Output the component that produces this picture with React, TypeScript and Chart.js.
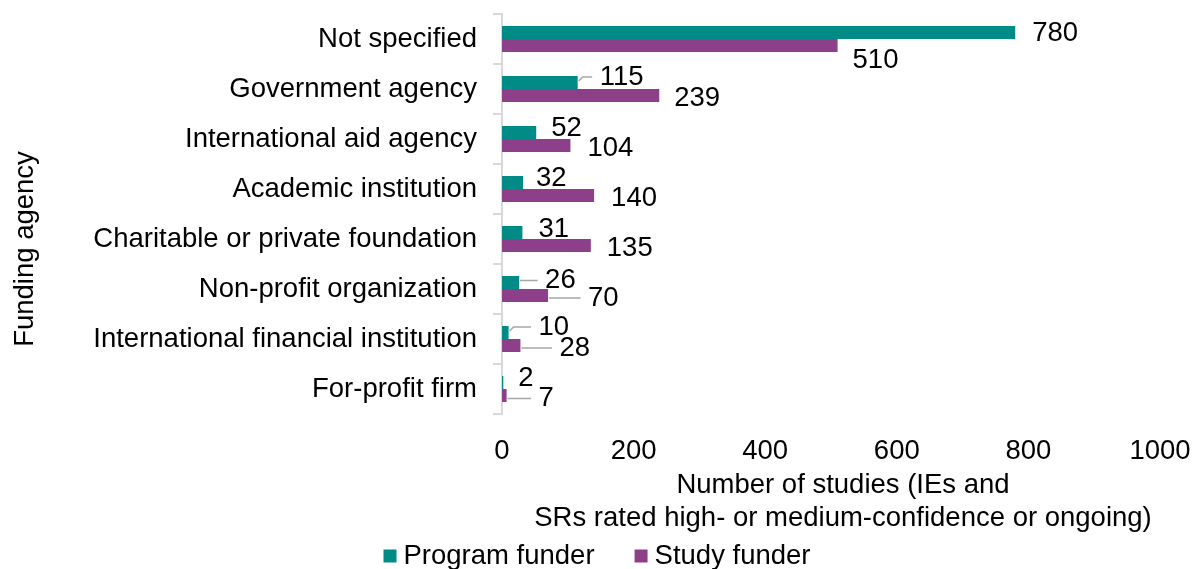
import React, { useEffect, useRef } from "react";
import { Chart, registerables } from "chart.js";

Chart.register(...registerables);

const categories = [
  "Not specified",
  "Government agency",
  "International aid agency",
  "Academic institution",
  "Charitable or private foundation",
  "Non-profit organization",
  "International financial institution",
  "For-profit firm",
];
const programFunder = [780, 115, 52, 32, 31, 26, 10, 2];
const studyFunder = [510, 239, 104, 140, 135, 70, 28, 7];
const seriesNames = ["Program funder", "Study funder"];
const xMin = 0;
const xMax = 1000;
const xStep = 200;
const yTitle = "Funding agency";
const xTitleLines = ["Number of studies (IEs and", "SRs rated high- or medium-confidence or ongoing)"];

// styling
const FONT = '"Liberation Sans", Arial, Helvetica, sans-serif';
const FS = 27.5;
const TEAL = "rgb(0,139,135)";
const PURPLE = "rgb(142,63,137)";
const AXIS_GRAY = "#D9D9D9";
const LEADER_GRAY = "#A6A6A6";

// label placement: [dx from bar end, dy from bar centre, leader line?]
const labelOffsets: [number, number, boolean][][] = [
  [[17, 1, false], [22, -5.5, true], [15, -4.5, false], [13, -4.5, false], [16, -3, false], [26, -2, true], [30, -5.5, true], [15, -4, false]],
  [[15, 14.5, false], [15, 2.5, false], [17, 2.5, false], [17, 3, false], [16, 3, false], [40, 2.5, true], [39, 2.5, true], [32, 3, true]],
];

const annotPlugin = {
  id: "annot",
  afterDraw(chart: any) {
    const ctx = chart.ctx as CanvasRenderingContext2D;
    const ca = chart.chartArea;
    ctx.save();
    ctx.font = `${FS}px ${FONT}`;
    ctx.fillStyle = "#000";

    // data labels
    chart.data.datasets.forEach((ds: any, i: number) => {
      const meta = chart.getDatasetMeta(i);
      meta.data.forEach((el: any, j: number) => {
        const off = labelOffsets[i][j];
        const p = el.getProps(["x", "y", "height", "base"], true);
        const x = p.x;
        const y = p.y;
        const lx = x + off[0];
        const ly = y + off[1];
        if (off[2]) {
          const top = y - p.height / 2;
          ctx.strokeStyle = LEADER_GRAY;
          ctx.lineWidth = 1.5;
          ctx.beginPath();
          if (ly < top + 2) {
            ctx.moveTo(x + 1, ly + 4);
            ctx.lineTo(x + 5, ly);
          } else {
            ctx.moveTo(x + 1, ly);
          }
          ctx.lineTo(lx - 7.5, ly);
          ctx.stroke();
        }
        ctx.textAlign = "left";
        ctx.textBaseline = "middle";
        ctx.fillText(String(ds.data[j]), lx, ly);
      });
    });

    // y title
    ctx.save();
    ctx.translate(25, 249);
    ctx.rotate(-Math.PI / 2);
    ctx.textAlign = "center";
    ctx.textBaseline = "middle";
    ctx.fillText(yTitle, 0, 0);
    ctx.restore();

    // x title
    const cx = (ca.left + ca.right) / 2 + 12;
    ctx.textAlign = "center";
    ctx.textBaseline = "middle";
    xTitleLines.forEach((t, k) => ctx.fillText(t, cx, 485 + k * 33));

    // legend
    const items = chart.data.datasets.map((d: any) => ({ label: d.label, color: d.backgroundColor }));
    const box = 13;
    const gapBox = 7;
    const gapItem = 40;
    const widths = items.map((it: any) => box + gapBox + ctx.measureText(it.label).width);
    const total = widths.reduce((a: number, b: number) => a + b, 0) + gapItem * (items.length - 1);
    let lx = chart.width / 2 - total / 2 - 4;
    const legY = 556;
    items.forEach((it: any, k: number) => {
      ctx.fillStyle = it.color;
      ctx.fillRect(lx, legY - box / 2, box, box);
      ctx.fillStyle = "#000";
      ctx.textAlign = "left";
      ctx.fillText(it.label, lx + box + gapBox, legY);
      lx += widths[k] + gapItem;
    });
    ctx.restore();
  },
};

export default function App() {
  const ref = useRef<HTMLCanvasElement | null>(null);
  useEffect(() => {
    document.body.style.margin = "0";
    const canvas = ref.current!;
    const chart = new Chart(canvas, {
      type: "bar",
      data: {
        labels: categories,
        datasets: [
          { label: seriesNames[0], data: programFunder, backgroundColor: TEAL, borderWidth: 0 },
          { label: seriesNames[1], data: studyFunder, backgroundColor: PURPLE, borderWidth: 0 },
        ],
      },
      options: {
        indexAxis: "y",
        animation: false,
        responsive: false,
        maintainAspectRatio: false,
        devicePixelRatio: 1,
        datasets: { bar: { categoryPercentage: 0.52, barPercentage: 1 } },
        layout: { padding: { left: 0, right: 42, top: 14, bottom: 0 } },
        plugins: { legend: { display: false }, tooltip: { enabled: false } },
        scales: {
          y: {
            type: "category",
            afterFit: (s: any) => {
              s.width = 502;
              s.paddingTop = 0;
              s.paddingBottom = 0;
            },
            ticks: { color: "#000", font: { family: FONT, size: FS }, padding: 16 },
            grid: { display: true, drawOnChartArea: false, drawTicks: true, tickLength: 9, color: AXIS_GRAY, lineWidth: 2, offset: true },
            border: { display: true, color: AXIS_GRAY, width: 2 },
          },
          x: {
            type: "linear",
            min: xMin,
            max: xMax,
            afterFit: (s: any) => {
              s.height = 155;
              s.paddingLeft = 0;
              s.paddingRight = 0;
            },
            ticks: {
              stepSize: xStep,
              color: "#000",
              font: { family: FONT, size: FS },
              padding: 21,
              callback: (v: any) => String(v),
            },
            grid: { display: false, drawTicks: false },
            border: { display: false },
          },
        },
      },
      plugins: [annotPlugin],
    } as any);
    return () => chart.destroy();
  }, []);
  return (
    <div style={{ position: "absolute", left: 0, top: 0, width: 1202, height: 569 }}>
      <canvas ref={ref} width={1202} height={569} style={{ width: 1202, height: 569 }} />
    </div>
  );
}
